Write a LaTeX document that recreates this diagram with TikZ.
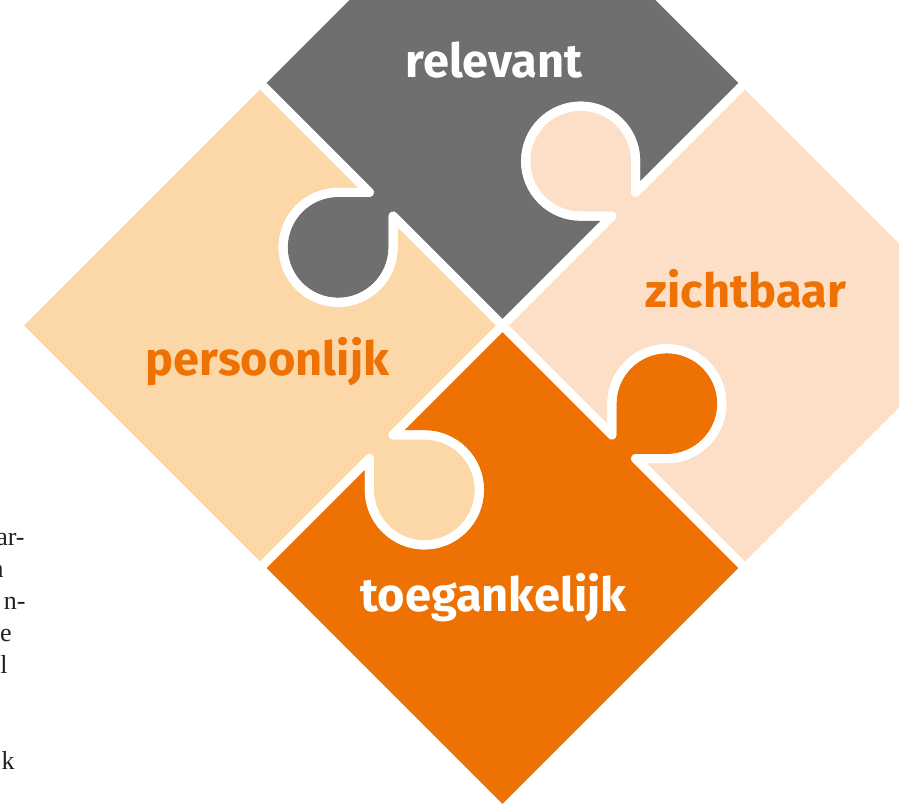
\documentclass[tikz,border=0pt]{standalone}
\usepackage{fontspec}
\newfontfamily\pzfont{Fira Sans}
\newfontfamily\bodyfont{Liberation Serif}
\definecolor{pgrey}{HTML}{6F6F6F}
\definecolor{plight}{HTML}{FCD8A9}
\definecolor{ppeach}{HTML}{FCDFC6}
\definecolor{porange}{HTML}{EE7203}
\definecolor{ptext}{HTML}{222222}
\newcommand\puzzlepiece[2]{%
  \begin{scope}[rotate=#1]
    \path[#2] (0,0) -- (154.7,0) -- (132.6,22.1)
      arc[start angle=225,end angle=-45,radius=27.5pt] -- (188.3,0) -- (343,0)
      -- (343,343) -- (0,343) -- (0,188.3) -- (-22.1,210.4)
      arc[start angle=45,end angle=315,radius=27.5pt] -- (0,154.7) -- cycle;
  \end{scope}}
\tikzset{
  gapline/.style={draw=white, line width=4.5pt, line join=round},
  lbl/.style={font=\pzfont\bfseries\fontsize{23.5}{28}\selectfont, anchor=base, inner sep=0pt},
  frag/.style={font=\bodyfont\fontsize{13}{15}\selectfont, anchor=base east, inner sep=0pt, text=ptext},
}
\begin{document}
\begin{tikzpicture}[x=0.5pt,y=0.5pt]
  \useasboundingbox (0,0) rectangle (899,-805);
  \fill[white] (0,0) rectangle (899,-805);
  \begin{scope}[shift={(502.5,-325.5)}, rotate=45]
    \puzzlepiece{0}{fill=pgrey}
    \puzzlepiece{90}{fill=plight}
    \puzzlepiece{180}{fill=porange}
    \puzzlepiece{270}{fill=ppeach}
    \puzzlepiece{0}{gapline}
    \puzzlepiece{90}{gapline}
    \puzzlepiece{180}{gapline}
    \puzzlepiece{270}{gapline}
  \end{scope}
  \node[lbl, text=white] (rel) at (494,-77) {relevant};
  \node[lbl, text=porange] (per) at (267.5,-375) {persoonlijk};
  \node[lbl, text=porange] (zic) at (746,-307) {zichtbaar};
  \node[lbl, text=white] (toe) at (493.5,-611) {toegankelijk};
  \node[frag] (f1) at (25,-545) {ar-};
  \node[frag] (f2) at (4,-577) {n};
  \node[frag] (f3) at (26,-609) {n-};
  \node[frag] (f4) at (12,-641) {e};
  \node[frag] (f5) at (8,-673) {l};
  \node[frag] (f6) at (15,-769) {k};
\end{tikzpicture}
\end{document}
